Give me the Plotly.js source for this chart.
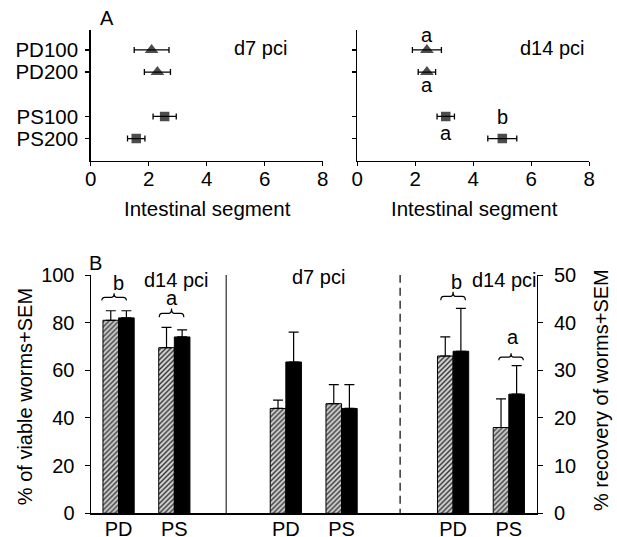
<!DOCTYPE html>
<html><head><meta charset="utf-8">
<script src="https://cdn.plot.ly/plotly-3.0.1.min.js"></script>
<style>html,body{margin:0;padding:0;background:#fff}#chart{width:617px;height:537px}</style>
</head><body><div id="chart"></div>
<script>
// ---------- Panel A data (mean position in intestinal segment +/- SEM) ----------
const rowsA = ['PD100', 'PD200', 'PS100', 'PS200'];
const d7Mean = [2.1, 2.3, 2.55, 1.57];
const d7Sem = [0.6, 0.45, 0.4, 0.3];
const d14Mean = [2.4, 2.4, 3.05, 5.0];
const d14Sem = [0.5, 0.3, 0.3, 0.5];
const xTicksA = [0, 2, 4, 6, 8];

// ---------- Panel B data ----------
const groupsB = ['PD', 'PS'];
// d14 pci, % viable worms (left axis)
const viableD14Hatched = [81, 69.5];
const viableD14HatchedSem = [4, 8.5];
const viableD14Solid = [82, 74];
const viableD14SolidSem = [3, 3];
// d7 pci, % viable worms (left axis)
const viableD7Hatched = [44, 46];
const viableD7HatchedSem = [3.5, 8];
const viableD7Solid = [63.5, 44];
const viableD7SolidSem = [12.5, 10];
// d14 pci, % recovery of worms (right axis)
const recD14Hatched = [33, 18];
const recD14HatchedSem = [4, 6];
const recD14Solid = [34, 25];
const recD14SolidSem = [9, 6];
const yTicksLeft = [0, 20, 40, 60, 80, 100];
const yTicksRight = [0, 10, 20, 30, 40, 50];

// ---------- helpers ----------
const W = 617, H = 537;
const px = v => v / W;
const py = v => 1 - v / H;
const FONT = 'Liberation Sans, Arial, Helvetica, sans-serif';
const black = '#000';

const symA = rowsA.map(r => r.startsWith('PD') ? 'triangle-up' : 'square');
const sizeA = rowsA.map(r => r.startsWith('PD') ? 12 : 9.5);

function panelATrace(mean, sem, xa, ya) {
  return {
    type: 'scatter', mode: 'markers', x: mean, y: rowsA, xaxis: xa, yaxis: ya,
    marker: {symbol: symA, size: sizeA, color: black, line: {width: 0}},
    error_x: {type: 'data', array: sem, visible: true, color: black, thickness: 1.3, width: 3},
    showlegend: false, hoverinfo: 'x+y'
  };
}

// section index -> x positions of the PD/PS pairs
const secX = s => groupsB.map((g, i) => s * 3 + i);
const BW = 0.28;
const hatchPattern = {shape: '/', fgcolor: '#333', bgcolor: '#d4d4d4', size: 3.5, solidity: 0.4};

function barTrace(s, vals, sem, hatched, ya) {
  return {
    type: 'bar', x: secX(s), y: vals, xaxis: 'x3', yaxis: ya,
    width: BW, offset: hatched ? -BW : 0,
    marker: hatched
      ? {color: '#d4d4d4', pattern: hatchPattern, line: {color: black, width: 1}}
      : {color: black, line: {color: black, width: 1}},
    error_y: {type: 'data', symmetric: false, array: sem, arrayminus: sem.map(() => 0),
              visible: true, color: black, thickness: 1.2, width: 5},
    showlegend: false, name: hatched ? 'hatched' : 'solid'
  };
}

const data = [
  panelATrace(d7Mean, d7Sem, 'x', 'y'),
  panelATrace(d14Mean, d14Sem, 'x2', 'y2'),
  barTrace(0, viableD14Hatched, viableD14HatchedSem, true, 'y3'),
  barTrace(0, viableD14Solid, viableD14SolidSem, false, 'y3'),
  barTrace(1, viableD7Hatched, viableD7HatchedSem, true, 'y3'),
  barTrace(1, viableD7Solid, viableD7SolidSem, false, 'y3'),
  barTrace(2, recD14Hatched, recD14HatchedSem, true, 'y4'),
  barTrace(2, recD14Solid, recD14SolidSem, false, 'y4')
];

const tf = {family: FONT, size: 20, color: black};
const tfA = {family: FONT, size: 20.5, color: black};
const baseAx = {showgrid: false, zeroline: false, showline: true, linecolor: black,
                ticks: 'outside', tickcolor: black, fixedrange: true, tickfont: tf};

const catOrder = ['PS200', 'PS100', ' ', 'PD200', 'PD100'];
const yA = Object.assign({}, baseAx, {
  type: 'category', categoryorder: 'array', categoryarray: catOrder,
  tickmode: 'array', tickvals: rowsA, ticktext: rowsA, tickfont: tfA, ticklabelstandoff: 3,
  range: [-1, 4.9], domain: [py(160.7), py(30)], ticklen: 4, linewidth: 1.5, tickwidth: 1.5
});
const xA = Object.assign({}, baseAx, {
  range: [0, 8], tickmode: 'array', tickvals: xTicksA, ticklen: 4, linewidth: 1.5, tickwidth: 1.5,
  tickfont: tfA, ticklabelstandoff: -5
});

// curly brace path (opening downward) in data coordinates
function brace(xc, hw, yBase, h, xref, yref) {
  const x0 = xc - hw, x1 = xc + hw, yf = yBase + h * 0.45, yt = yBase + h;
  const path = `M${x0},${yBase} Q${x0},${yf} ${x0 + hw * 0.25},${yf} L${xc - hw * 0.2},${yf} Q${xc},${yf} ${xc},${yt} ` +
               `Q${xc},${yf} ${xc + hw * 0.2},${yf} L${x1 - hw * 0.25},${yf} Q${x1},${yf} ${x1},${yBase}`;
  return {type: 'path', path: path, xref: xref, yref: yref, line: {color: black, width: 1.2}};
}

const ann = (text, x, y, opts) => Object.assign({text: text, x: x, y: y, xref: 'paper', yref: 'paper',
  showarrow: false, font: tf, xanchor: 'center', yanchor: 'middle'}, opts || {});

const layout = {
  width: W, height: H, margin: {l: 0, r: 0, t: 0, b: 0},
  paper_bgcolor: '#fff', plot_bgcolor: 'rgba(0,0,0,0)',
  barmode: 'overlay', showlegend: false, font: tf,
  xaxis: Object.assign({}, xA, {domain: [px(90.7), px(322.7)], anchor: 'y'}),
  yaxis: Object.assign({}, yA, {anchor: 'x'}),
  xaxis2: Object.assign({}, xA, {domain: [px(357.3), px(589.3)], anchor: 'y2'}),
  yaxis2: Object.assign({}, yA, {anchor: 'x2', showticklabels: false}),
  xaxis3: Object.assign({}, baseAx, {domain: [px(90.7), px(536.7)], range: [-0.5, 7.5], anchor: 'y3',
    tickmode: 'array', tickvals: [0, 1, 3, 4, 6, 7], ticktext: [0, 1, 2].flatMap(() => groupsB),
    ticks: '', linewidth: 1.2, ticklabelstandoff: -3}),
  yaxis3: Object.assign({}, baseAx, {domain: [py(513.3), py(275)], range: [0, 100], anchor: 'x3',
    tickmode: 'array', tickvals: yTicksLeft, ticklen: 5, linewidth: 1.2, ticklabelstandoff: 6}),
  yaxis4: Object.assign({}, baseAx, {domain: [py(513.3), py(275)], range: [0, 50], anchor: 'x3',
    overlaying: 'y3', side: 'right', tickmode: 'array', tickvals: yTicksRight, ticklen: 5, linewidth: 1.2,
    ticklabelstandoff: 7}),
  shapes: [
    {type: 'line', xref: 'x3', yref: 'y3', x0: 1.93, x1: 1.93, y0: -1.5, y1: 100, line: {color: black, width: 1}},
    {type: 'line', xref: 'x3', yref: 'y3', x0: 5.05, x1: 5.05, y0: -1.5, y1: 100, line: {color: black, width: 1.2, dash: '8px,5px'}},
    brace(-0.08, 0.22, 89.3, 3, 'x3', 'y3'),
    brace(0.95, 0.22, 82.3, 3.6, 'x3', 'y3'),
    brace(6.0, 0.22, 44.7, 1.8, 'x3', 'y4'),
    brace(7.04, 0.22, 32.1, 1.5, 'x3', 'y4')
  ],
  annotations: [
    ann('A', px(107), py(18)),
    ann('d7 pci', px(260), py(48)),
    ann('d14 pci', px(552), py(48)),
    ann('Intestinal segment', px(207.5), py(208), {font: tfA}),
    ann('Intestinal segment', px(474), py(208), {font: tfA}),
    // significance letters panel A (right)
    {text: 'a', x: 2.4, y: 'PD100', xref: 'x2', yref: 'y2', yshift: 15, showarrow: false, font: tf},
    {text: 'a', x: 2.4, y: 'PD200', xref: 'x2', yref: 'y2', yshift: -13, showarrow: false, font: tf},
    {text: 'b', x: 5.0, y: 'PS100', xref: 'x2', yref: 'y2', yshift: -1, showarrow: false, font: tf},
    {text: 'a', x: 3.05, y: 'PS200', xref: 'x2', yref: 'y2', yshift: 5.5, showarrow: false, font: tf},
    // panel B
    ann('B', px(95), py(263)),
    {text: 'b', x: 0, y: 96.7, xref: 'x3', yref: 'y3', showarrow: false, font: tf},
    {text: 'a', x: 0.95, y: 90.3, xref: 'x3', yref: 'y3', showarrow: false, font: tf},
    {text: 'd14 pci', x: 1.03, y: 97.8, xref: 'x3', yref: 'y3', showarrow: false, font: tf},
    {text: 'd7 pci', x: 3.59, y: 99.1, xref: 'x3', yref: 'y3', showarrow: false, font: tf},
    {text: 'b', x: 6.07, y: 48.55, xref: 'x3', yref: 'y4', showarrow: false, font: tf},
    {text: 'd14 pci', x: 6.92, y: 48.9, xref: 'x3', yref: 'y4', showarrow: false, font: tf},
    {text: 'a', x: 7.07, y: 37.0, xref: 'x3', yref: 'y4', showarrow: false, font: tf},
    ann('% of viable worms+SEM', px(24.5), py(396.7), {textangle: -90}),
    ann('% recovery of worms+SEM', px(601), py(390), {textangle: -90})
  ]
};

Plotly.newPlot('chart', data, layout, {staticPlot: true, displayModeBar: false});
</script></body></html>
